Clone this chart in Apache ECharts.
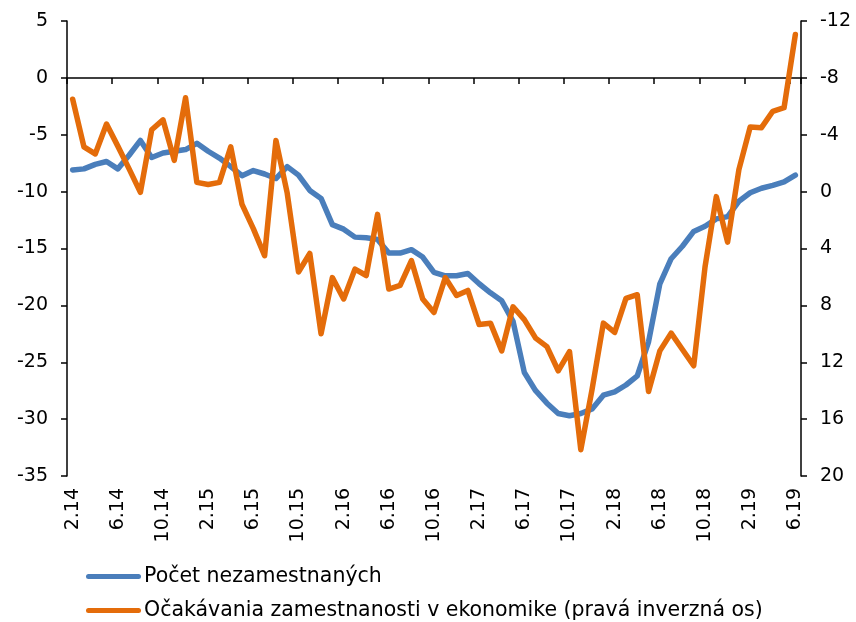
<!DOCTYPE html>
<html>
<head>
<meta charset="utf-8">
<title>Nezamestnanosť</title>
<script src="https://cdn.jsdelivr.net/npm/echarts@6/dist/echarts.min.js"></script>
<style>
    html,body{margin:0;padding:0;background:#fff;}
    #chart{width:856px;height:622px;}
</style>
</head>
<body>
<div id="chart"></div>
<script>
var FONT = "DejaVu Sans";

// mesiace 2.14 - 6.19
var months = [
    "2.14","3.14","4.14","5.14","6.14","7.14","8.14","9.14","10.14","11.14","12.14",
    "1.15","2.15","3.15","4.15","5.15","6.15","7.15","8.15","9.15","10.15","11.15","12.15",
    "1.16","2.16","3.16","4.16","5.16","6.16","7.16","8.16","9.16","10.16","11.16","12.16",
    "1.17","2.17","3.17","4.17","5.17","6.17","7.17","8.17","9.17","10.17","11.17","12.17",
    "1.18","2.18","3.18","4.18","5.18","6.18","7.18","8.18","9.18","10.18","11.18","12.18",
    "1.19","2.19","3.19","4.19","5.19","6.19"
];

// počet nezamestnaných (ľavá os)
var unemployed = [
    -8.1, -8.0, -7.6, -7.35, -8.0, -6.8, -5.5, -7.0, -6.6, -6.45, -6.3,
    -5.75, -6.45, -7.05, -7.8, -8.6, -8.15, -8.45, -8.85, -7.8, -8.55, -9.9, -10.6,
    -12.9, -13.3, -14.0, -14.05, -14.2, -15.4, -15.4, -15.1, -15.75, -17.1, -17.4, -17.4,
    -17.2, -18.1, -18.9, -19.6, -21.4, -25.9, -27.5, -28.6, -29.5, -29.7, -29.5, -29.1,
    -27.9, -27.6, -27.0, -26.2, -23.2, -18.1, -15.9, -14.8, -13.5, -13.05, -12.4, -12.2,
    -10.85, -10.1, -9.7, -9.45, -9.15, -8.55
];

// očakávania zamestnanosti (pravá inverzná os)
var expectations = [
    -6.5, -3.15, -2.65, -4.75, -3.2, -1.6, 0.05, -4.35, -5.05, -2.2, -6.6,
    -0.65, -0.5, -0.65, -3.15, 0.9, 2.6, 4.5, -3.6, 0.1, 5.65, 4.35, 10.0,
    6.05, 7.55, 5.45, 5.9, 1.6, 6.85, 6.6, 4.85, 7.55, 8.5, 6.05, 7.3,
    6.95, 9.35, 9.25, 11.2, 8.1, 9.0, 10.3, 10.9, 12.6, 11.25, 18.15, 13.9,
    9.25, 9.9, 7.5, 7.25, 14.05, 11.2, 9.95, 11.1, 12.25, 5.3, 0.35, 3.55,
    -1.55, -4.55, -4.5, -5.65, -5.9, -11.05
];

var seriesNames = ["Počet nezamestnaných", "Očakávania zamestnanosti v ekonomike (pravá inverzná os)"];

var chart = echarts.init(document.getElementById("chart"));

var axisLineStyle = {color: "#000", width: 1.5};
var labelStyle = {color: "#000", fontFamily: FONT, fontSize: 19};
// hrubá čiara ako ikona legendy
var legendIcon = "path://M2.5,0 H52.5 A2.5,2.5 0 0 1 52.5,5 H2.5 A2.5,2.5 0 0 1 2.5,0 Z";

// jedna legenda na riadok
function makeLegend(name, top){
    return {
        left: 86,
        top: top,
        padding: 0,
        icon: legendIcon,
        itemWidth: 55,
        itemHeight: 20,
        textStyle: {color: "#000", fontFamily: FONT, fontSize: 20.5, padding: [0, 0, 0, -2]},
        data: [name]
    };
}

var option = {
    animation: false,
    grid: {left: 67, right: 55, top: 21, bottom: 146, containLabel: false},
    legend: [
        makeLegend(seriesNames[0], 566),
        makeLegend(seriesNames[1], 600)
    ],
    xAxis: [
        {
            // popisky dole
            type: "category",
            data: months,
            boundaryGap: true,
            position: "bottom",
            axisLine: {show: false, onZero: false},
            axisTick: {show: false},
            axisLabel: Object.assign({interval: 3, rotate: 90, margin: 12}, labelStyle)
        },
        {
            // čiara na nule s dielikmi
            type: "category",
            data: months,
            boundaryGap: true,
            position: "top",
            axisLine: {show: true, onZero: true, onZeroAxisIndex: 0, lineStyle: axisLineStyle},
            axisTick: {show: true, inside: true, interval: 3, length: 6, lineStyle: axisLineStyle},
            axisLabel: {show: false}
        }
    ],
    yAxis: [
        {
            type: "value",
            min: -35,
            max: 5,
            interval: 5,
            position: "left",
            splitLine: {show: false},
            axisLine: {show: true, lineStyle: axisLineStyle},
            axisTick: {show: true, length: 6, lineStyle: axisLineStyle},
            axisLabel: Object.assign({margin: 19}, labelStyle)
        },
        {
            type: "value",
            min: -12,
            max: 20,
            interval: 4,
            inverse: true,
            position: "right",
            splitLine: {show: false},
            axisLine: {show: true, lineStyle: axisLineStyle},
            axisTick: {show: true, length: 6, lineStyle: axisLineStyle},
            axisLabel: Object.assign({margin: 19}, labelStyle)
        }
    ],
    series: [
        {
            name: seriesNames[0],
            type: "line",
            xAxisIndex: 0,
            yAxisIndex: 0,
            data: unemployed,
            symbol: "none",
            color: "#4a7ebb",
            lineStyle: {width: 5.5, color: "#4a7ebb", cap: "round", join: "round"}
        },
        {
            name: seriesNames[1],
            type: "line",
            xAxisIndex: 0,
            yAxisIndex: 1,
            data: expectations,
            symbol: "none",
            color: "#e46c0a",
            lineStyle: {width: 5.5, color: "#e46c0a", cap: "round", join: "round"}
        }
    ]
};

chart.setOption(option);
</script>
</body>
</html>
